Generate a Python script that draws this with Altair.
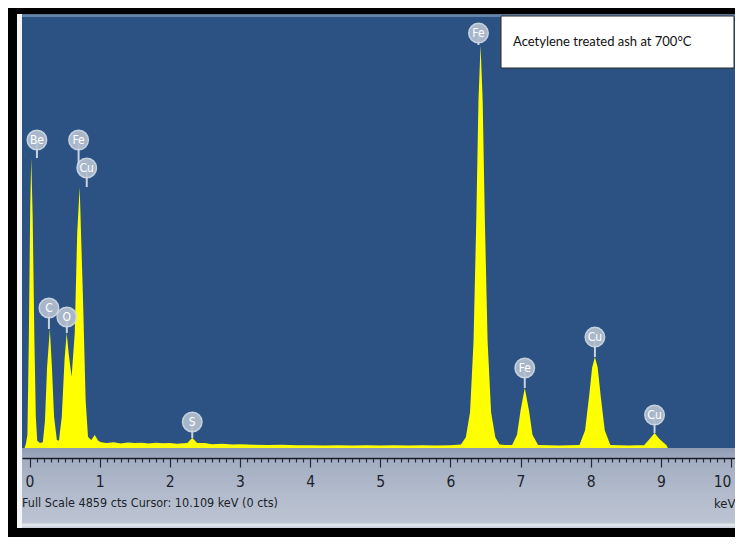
import altair as alt
import pandas as pd

# ---- EDS spectrum: energy (keV) and counts ----
kev = [-0.07, -0.05, -0.03, -0.01, 0.01, 0.025, 0.045, 0.07, 0.09, 0.11, 0.15,
       0.19, 0.22, 0.25, 0.29, 0.32, 0.35, 0.39,
       0.42, 0.46, 0.50, 0.53, 0.56, 0.60,
       0.645, 0.68, 0.715, 0.763, 0.80, 0.834, 0.88, 0.93, 0.98, 1.02,
       1.1, 1.2, 1.3, 1.4, 1.5, 1.6, 1.7, 1.8, 1.9, 2.0, 2.1, 2.2,
       2.25, 2.29, 2.32, 2.35, 2.39,
       2.5, 2.6, 2.75, 2.9, 3.0, 3.2, 3.4, 3.6, 3.8, 4.0, 4.2, 4.4, 4.6, 4.8,
       5.0, 5.2, 5.4, 5.6, 5.8, 6.0, 6.1,
       6.15, 6.22, 6.28, 6.33, 6.37, 6.40, 6.43, 6.46, 6.49, 6.53, 6.58, 6.64, 6.70,
       6.78, 6.88, 6.95, 7.00, 7.06, 7.12, 7.17, 7.25,
       7.4, 7.55, 7.7, 7.84, 7.92, 7.98, 8.02, 8.06, 8.10, 8.14, 8.20, 8.28,
       8.4, 8.55, 8.65, 8.76, 8.84, 8.91, 8.98, 9.08, 9.10]
cts = [0, 50, 150, 1200, 2700, 3254, 2600, 1200, 350, 80, 55,
       65, 300, 900, 1335, 900, 350, 90,
       80, 350, 1000, 1290, 1050, 800,
       1290, 2412, 2928, 1660, 539, 123, 90, 146, 80, 65,
       55, 65, 50, 62, 55, 60, 50, 58, 52, 56, 48, 52,
       55, 90, 112, 90, 55,
       55, 42, 48, 38, 42, 36, 33, 36, 30, 32, 28, 32, 28, 30,
       28, 30, 28, 30, 28, 32, 36,
       40, 120, 400, 1200, 2600, 3900, 4522, 3900, 2600, 1200, 400, 120, 40,
       35, 35, 150, 420, 673, 420, 150, 35,
       30, 28, 30, 35, 200, 600, 900, 1021, 900, 600, 200, 35,
       30, 28, 30, 30, 100, 168, 100, 30, 0]

# ---- peak identification labels ----
label_el = ["Be", "C", "O", "Fe", "Cu", "S", "Fe", "Fe", "Cu", "Cu"]
label_kev = [0.106, 0.277, 0.532, 0.70, 0.816, 2.32, 6.40, 7.06, 8.06, 8.91]
label_cts = [3456, 1571, 1470, 3456, 3142, 292, 4656, 898, 1245, 370]
stem_end = [3254, 1335, 1290, 3142, 2928, 112, 4522, 673, 1021, 168]

ruler_ticks = [round(i * 0.1, 1) for i in range(102)]

full_scale = 4859
status_text = "Full Scale 4859 cts  Cursor: 10.109 keV (0 cts)"
box_text = "Acetylene treated ash at 700°C"

W, H = 713, 433
NARROW = "DejaVu Sans Condensed, Liberation Sans Narrow, sans-serif"
MAJOR = "abs(datum.value - round(datum.value)) < 0.01"

spec = pd.DataFrame({"kev": kev, "cts": cts})
labels = pd.DataFrame({"el": label_el, "kev": label_kev, "cts": label_cts, "end": stem_end})

xscale = alt.Scale(domain=[-0.107, 10.057], nice=False, zero=False)
yscale = alt.Scale(domain=[0, full_scale], nice=False, zero=True)

xaxis = alt.Axis(
    values=ruler_ticks, tickCount=500,
    labelExpr=MAJOR + " ? format(datum.value, 'd') : ''",
    labelFlush=6, labelOverlap=False, grid=False,
    orient="bottom", offset=10, zindex=1,
    domainColor="#1a1d26", domainWidth=1.5,
    tickColor="#262a36", tickWidth=1.2,
    tickSize={"condition": {"test": MAJOR, "value": 9}, "value": 4},
    labelFont=NARROW, labelFontSize=15.5, labelColor="#1b1f2a", labelPadding=7,
    title="keV", titleFont=NARROW, titleFontSize=13, titleFontWeight="normal",
    titleColor="#1b1f2a", titleAnchor="end", titleAlign="right",
    titleBaseline="middle", titleX=W, titleY=45,
)
X = alt.X("kev:Q", scale=xscale, axis=xaxis)
Y = alt.Y("cts:Q", scale=yscale, axis=None)

one = alt.Data(values=[{}])

band = alt.Chart(one).mark_rect(
    color=alt.Gradient(gradient="linear", x1=0, x2=0, y1=0, y2=1,
                       stops=[alt.GradientStop(offset=0, color="#8f9cb2"),
                              alt.GradientStop(offset=0.15, color="#a3aec2"),
                              alt.GradientStop(offset=0.6, color="#b3bccc"),
                              alt.GradientStop(offset=0.93, color="#bcc4d3"),
                              alt.GradientStop(offset=0.96, color="#e6eaf0"),
                              alt.GradientStop(offset=1, color="#c6cdd9")])
).encode(x=alt.value(0), x2=alt.value(W), y=alt.value(H), y2=alt.value(H + 80))

left_strip = alt.Chart(one).mark_rect(color="#f4f6f8").encode(
    x=alt.value(-5), x2=alt.value(0), y=alt.value(-1), y2=alt.value(H + 80))

top_strip = alt.Chart(one).mark_rect(color="#7290b8", opacity=0.8).encode(
    x=alt.value(0), x2=alt.value(W), y=alt.value(-1), y2=alt.value(2))

area = alt.Chart(spec).mark_area(color="#ffff00", interpolate="linear").encode(x=X, y=Y)

stems = alt.Chart(labels).mark_rule(color="#c9d2df", strokeWidth=2).encode(
    x=X, y=Y, y2="end:Q")

dots = alt.Chart(labels).mark_point(
    filled=True, shape="circle", size=380, color="#b3bfd0", opacity=0.92,
    stroke="#d4dce7", strokeWidth=1.5
).encode(x=X, y=Y)

dot_text = alt.Chart(labels).mark_text(
    font=NARROW, fontSize=12, color="#ffffff", baseline="middle", align="center"
).encode(x=X, y=Y, text="el:N")

status = alt.Chart(one).mark_text(
    text=status_text, font=NARROW, fontSize=12.5, color="#1b1f2a",
    align="left", baseline="middle"
).encode(x=alt.value(0), y=alt.value(488))

box = alt.Chart(one).mark_rect(color="#ffffff", stroke="#2a2a2a", strokeWidth=1).encode(
    x=alt.value(479), x2=alt.value(W - 1), y=alt.value(1), y2=alt.value(53))

box_label = alt.Chart(one).mark_text(
    text=box_text, font="Lato, Open Sans, sans-serif", fontSize=13, color="#111111",
    align="left", baseline="middle"
).encode(x=alt.value(491), y=alt.value(27))

chart = alt.layer(
    band, left_strip, top_strip, area, stems, dots, dot_text, status, box, box_label
).properties(
    width=W, height=H,
    background="#000000",
    padding={"left": 14, "top": 7, "right": 0, "bottom": 89},
    autosize=alt.AutoSizeParams(type="none"),
).configure_view(fill="#2b5283", stroke="#2b5283", strokeWidth=0)

chart.save("out.html", embed_options={"renderer": "svg", "actions": False})
